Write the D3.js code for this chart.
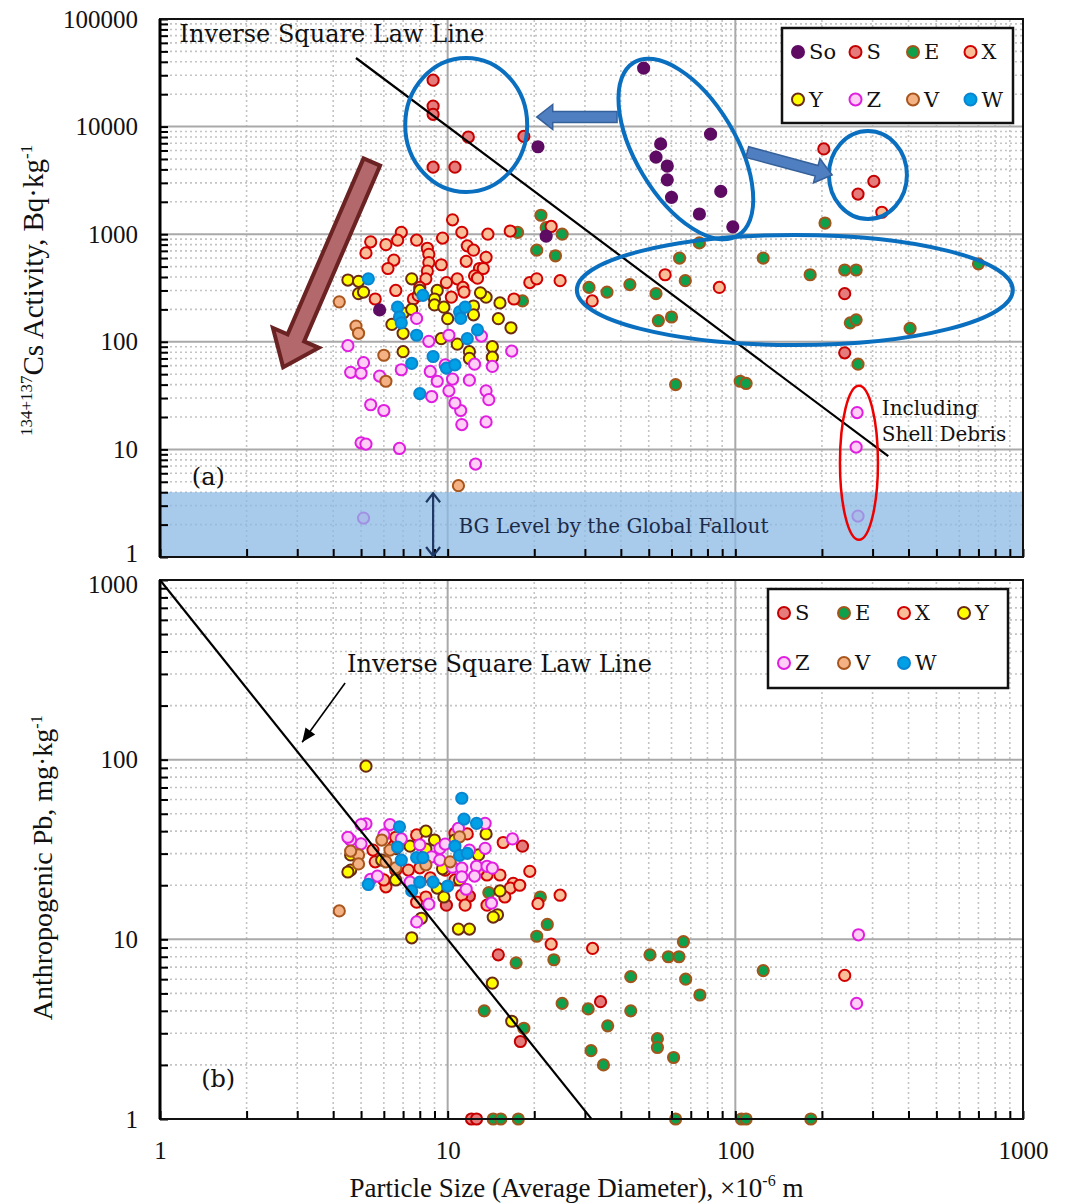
<!DOCTYPE html>
<html>
<head>
<meta charset="utf-8">
<script src="https://cdn.jsdelivr.net/npm/d3@7"></script>
<style>
  body { margin: 0; background: #fff; }
  svg { display: block; }
</style>
</head>
<body>
<div id="container"></div>
<script>
// ---- data: [particle size (um), value] ----
// panel (a): 134+137Cs activity, Bq/kg
const soA = [[48,35000],[82,8500],[55,6900],[53,5200],[58,4300],[58,3200],[89,2500],[60,2200],[75,1540],[98,1170],[20.6,6500],[22,960],[5.8,198]];
const sA = [[8.9,27000],[8.9,15500],[8.9,13000],[11.8,8000],[18.4,8100],[8.9,4200],[10.6,4200],[203,6200],[267,2360],[303,3100],[240,280],[240,79]];
const eA = [[21.1,1500],[17.5,1040],[20.4,710],[18.2,240],[22,1150],[25,1000],[23.7,630],[31,320],[35.8,290],[43,340],[53,280],[54,157],[60,170],[64,600],[67,370],[75,830],[62,40],[104,43],[109,41],[125,600],[182,420],[240,465],[263,465],[251,150],[263,160],[267,62],[205,1270],[405,133],[700,530]];
const xA = [[10.4,1360],[11.2,1040],[9.6,920],[6.9,1040],[6.7,880],[6.1,800],[7.8,880],[8.5,740],[8.6,650],[6.5,575],[6.2,480],[5.2,670],[8.6,545],[9.5,520],[11.6,560],[11.7,780],[12.3,710],[13.8,1000],[13.6,610],[12.9,480],[13.3,480],[12.4,410],[12.7,390],[8.5,455],[8.4,385],[9.9,355],[10.8,385],[11.3,320],[11.4,290],[10.3,260],[6.6,300],[5.6,250],[16.5,1070],[19.3,355],[20.4,385],[17.0,250],[7.6,250],[7.9,270],[8.0,320],[22.9,1180],[24.6,370],[31.8,240],[57,420],[88,320],[323,1600],[5.4,850]];
const yA = [[4.5,375],[4.9,365],[4.9,280],[5.1,290],[7.5,385],[8.0,300],[9.2,300],[9.0,250],[9.0,220],[9.7,210],[7.0,185],[7.5,200],[6.4,145],[7.0,120],[10.0,164],[10.8,95],[9.5,107],[12.3,215],[12.3,178],[15.2,230],[15.0,164],[16.6,135],[13.6,260],[13.0,285],[14.3,90],[14.3,72],[11.9,81],[11.9,70],[7.0,81]];
const zA = [[7.8,165],[8.6,101],[10.1,115],[13.1,113],[16.7,82],[4.5,92],[5.1,64],[4.6,52],[5.0,51],[6.9,55],[8.7,53],[9.8,61],[12.4,62],[14.3,59],[10.4,45],[5.8,48],[5.4,26],[6.0,23],[9.2,43],[8.8,31],[10.1,35],[11.1,23],[11.2,17],[10.6,27],[13.6,35],[13.9,29],[13.6,18],[11.9,44],[5.0,11.5],[5.2,11.2],[6.8,10.2],[12.5,7.3],[5.1,2.3],[265,22],[263,10.5],[267,2.4]];
const vA = [[4.2,235],[4.8,140],[4.9,120],[6.0,75],[6.1,43],[10.9,4.6]];
const wA = [[5.3,385],[8.2,270],[6.7,210],[6.8,170],[6.9,150],[11.0,190],[11.5,210],[11.1,165],[12.7,129],[11.7,107],[7.8,115],[8.9,73],[7.5,63],[9.9,57],[10.6,61],[8.0,33]];

// panel (b): anthropogenic Pb, mg/kg
const sB = [[18.2,33],[11.9,17.4],[15.0,8.2],[17.9,2.7],[34,4.5],[12.1,1],[12.6,1],[9.9,15.5]];
const eB = [[13.9,18.2],[21.0,17.2],[22.2,12.1],[20.4,10.4],[17.3,7.4],[23.4,7.7],[50.5,8.2],[58.5,8.0],[63.7,8.0],[66,9.7],[43.3,6.2],[67.2,6.0],[75.3,4.9],[125,6.7],[25,4.4],[30.8,4.1],[43.3,4.0],[36,3.3],[53.6,2.8],[53.6,2.5],[61,2.2],[31.5,2.4],[34.8,2.0],[18.4,3.2],[13.4,4.0],[14.4,1],[15.3,1],[17.6,1],[62,1],[105,1],[109,1],[183,1]];
const xB = [[7.8,38.1],[15.6,34.6],[19.3,23.9],[24.6,17.6],[20.6,15.8],[22.9,9.4],[11.7,38.6],[8.0,25],[6.1,19.6],[7.8,16.1],[8.4,17.2],[11.2,17.6],[16.9,20.5],[16.5,19.3],[15.8,17.2],[13.7,22.8],[31.9,8.9],[240,6.3],[6.5,33],[10.6,39],[5.6,27],[6.6,24.3],[6.6,37],[7.3,24.3],[8.7,22],[9.8,24.3],[10.6,21.4],[12.8,24.3],[15.2,22.8],[17.8,20],[5.5,31.4],[6.0,21.4],[11.5,15.5],[13.7,15.5]];
const yB = [[5.2,92],[7.5,10.2],[10.9,11.4],[11.9,11.4],[14.9,13.7],[14.4,13.3],[15.2,18.6],[9.0,35.7],[7.4,33],[13.6,38.6],[9.6,24.7],[9.7,17.2],[9.2,19.3],[8.1,13.1],[4.6,24.3],[4.5,23.7],[4.6,29.5],[16.7,3.5],[14.3,5.7],[6.6,32],[8.4,40],[5.9,27.6],[8.4,31.8],[10.6,35.7],[12.8,29.5],[6.6,21.4],[11.0,21.4]];
const zB = [[5.2,44],[6.0,38.1],[5.0,34],[4.6,35.7],[4.5,37],[5.0,43.5],[6.9,36.2],[10.9,41.5],[13.5,44.2],[13.5,32.1],[9.4,32.1],[8.8,28.8],[9.4,27.6],[10.4,25.2],[11.2,24.9],[12.6,25.5],[13.7,25.5],[14.3,24.9],[12.4,22.5],[11.2,22.3],[11.6,19.0],[14.2,15.9],[8.6,15.7],[7.8,12.5],[5.4,21.6],[5.7,22.5],[7.4,20.8],[16.8,36.2],[9.8,33.9],[268,10.6],[264,4.4],[6.3,43.5],[8.0,33.6],[11.9,31.4]];
const vB = [[5.9,35.7],[4.9,29.5],[4.9,26.3],[11.0,37.2],[6.1,27],[4.2,14.4],[4.6,31],[6.3,31.4],[8.4,26],[10.2,27],[6.6,25]];
const wB = [[11.2,61],[11.4,46.7],[12.6,44.2],[6.8,42.3],[6.7,32.6],[6.9,27.6],[7.8,28.5],[8.2,28.5],[10.6,33],[11.0,29.3],[11.7,30.1],[8.9,20.8],[8.0,20.8],[7.5,18.6],[10.0,19.8],[5.3,20.2]];

const legendA = ["So", "S", "E", "X", "Y", "Z", "V", "W"];
const legendB = ["S", "E", "X", "Y", "Z", "V", "W"];

// marker styles
const fills = {So: "#5e0b63", S: "#e57b7b", E: "#0ea04b", X: "#f9bd98", Y: "#ffff00", Z: "#ffcdf5", V: "#f4b183", W: "#00a0e6"};
const strokes = {So: "#5e0b63", S: "#c40000", E: "#a3561c", X: "#d20000", Y: "#6b2a14", Z: "#e01ee0", V: "#a8561e", W: "#0a86d0"};

const width = 1069, height = 1204;
const serif = "'Liberation Serif', 'Times New Roman', serif";
const century = "'DejaVu Serif', serif";

const svg = d3.select("#container").append("svg")
    .attr("width", width)
    .attr("height", height);

const x = d3.scaleLog().domain([1, 1000]).range([160, 1023]);
const ya = d3.scaleLog().domain([1, 100000]).range([557, 19]);
const yb = d3.scaleLog().domain([1, 1000]).range([1119, 580]);

function logTicks(lo, hi) {
    const t = [];
    for (let d = lo; d < hi; d *= 10)
        for (let m = 1; m < 10; m++) t.push(d * m);
    t.push(hi);
    return t;
}
const isMajor = v => Math.abs(Math.log10(v) - Math.round(Math.log10(v))) < 1e-9;

function drawGrid(y) {
    const g = svg.append("g");
    const [x0, x1] = x.range();
    const [y0, y1] = y.range();
    const xt = logTicks(1, 1000), yt = logTicks(y.domain()[0], y.domain()[1]);
    // minor dotted
    g.selectAll(".vx").data(xt.filter(v => !isMajor(v))).enter().append("line")
        .attr("x1", d => x(d)).attr("x2", d => x(d)).attr("y1", y0).attr("y2", y1)
        .attr("stroke", "#c4c4c4").attr("stroke-width", 1.6).attr("stroke-dasharray", "2,3");
    g.selectAll(".hy").data(yt.filter(v => !isMajor(v))).enter().append("line")
        .attr("x1", x0).attr("x2", x1).attr("y1", d => y(d)).attr("y2", d => y(d))
        .attr("stroke", "#c4c4c4").attr("stroke-width", 1.6).attr("stroke-dasharray", "2,3");
    // major solid
    g.selectAll(".vX").data([10, 100]).enter().append("line")
        .attr("x1", d => x(d)).attr("x2", d => x(d)).attr("y1", y0).attr("y2", y1)
        .attr("stroke", "#a9a9a9").attr("stroke-width", 2);
    g.selectAll(".hY").data(yt.filter(v => isMajor(v)).slice(1, -1)).enter().append("line")
        .attr("x1", x0).attr("x2", x1).attr("y1", d => y(d)).attr("y2", d => y(d))
        .attr("stroke", "#a9a9a9").attr("stroke-width", 2);
}

function drawAxes(y, showX, nudge) {
    const [y0, y1] = y.range();
    const yt = logTicks(y.domain()[0], y.domain()[1]);
    const ax = svg.append("g")
        .attr("transform", `translate(${x.range()[0]},0)`)
        .call(d3.axisLeft(y).tickValues(yt).tickSize(-8).tickPadding(22)
            .tickFormat(d => isMajor(d) ? String(Math.round(d)) : ""));
    ax.select(".domain").remove();
    ax.selectAll("line").attr("stroke", "#000").attr("stroke-width", 2);
    ax.selectAll("text").attr("font-family", serif).attr("font-size", 25).attr("fill", "#111");
    // keep the stacked "1" / "1000" labels between the panels apart
    ax.selectAll(".tick").filter(d => nudge[d] !== undefined)
        .select("text").attr("y", d => nudge[d]);

    const bx = svg.append("g")
        .attr("transform", `translate(0,${y0})`)
        .call(d3.axisBottom(x).tickValues(logTicks(1, 1000)).tickSize(-8).tickPadding(22)
            .tickFormat(d => showX && isMajor(d) ? String(Math.round(d)) : ""));
    bx.select(".domain").remove();
    bx.selectAll("line").attr("stroke", "#000").attr("stroke-width", 2);
    bx.selectAll("text").attr("font-family", serif).attr("font-size", 25).attr("fill", "#111");

    // frame
    svg.append("rect")
        .attr("x", x.range()[0]).attr("y", y1)
        .attr("width", x.range()[1] - x.range()[0]).attr("height", y0 - y1)
        .attr("fill", "none").attr("stroke", "#111").attr("stroke-width", 2);
    svg.append("line")
        .attr("x1", x.range()[0]).attr("x2", x.range()[0]).attr("y1", y0).attr("y2", y1)
        .attr("stroke", "#000").attr("stroke-width", 3);
}

function drawPoints(y, series) {
    const g = svg.append("g");
    series.forEach(([name, data]) => {
        g.append("g").selectAll("circle").data(data).enter().append("circle")
            .attr("cx", d => x(d[0]))
            .attr("cy", d => y(d[1]))
            .attr("r", 5.6)
            .attr("fill", fills[name])
            .attr("stroke", strokes[name])
            .attr("stroke-width", 2);
    });
}

function drawLegend(names, cols, bx, by, bw, bh, dx, dy) {
    const g = svg.append("g").attr("transform", `translate(${bx},${by})`);
    g.append("rect").attr("width", bw).attr("height", bh)
        .attr("fill", "#fff").attr("stroke", "#111").attr("stroke-width", 2.5);
    const it = g.selectAll("g").data(names).enter().append("g")
        .attr("transform", (d, i) => `translate(${16 + (i % cols) * dx},${24 + Math.floor(i / cols) * dy})`);
    it.append("circle").attr("r", 6)
        .attr("fill", d => fills[d]).attr("stroke", d => strokes[d]).attr("stroke-width", 2);
    it.append("text").attr("x", 11).attr("dy", "0.35em")
        .attr("font-family", century).attr("font-size", 21).attr("fill", "#111")
        .text(d => d);
}

function blockArrow(p0, p1, shaft, headW, headL) {
    const dx = p1[0] - p0[0], dy = p1[1] - p0[1], L = Math.hypot(dx, dy);
    const ux = dx / L, uy = dy / L, nx = -uy, ny = ux;
    const b = [p1[0] - ux * headL, p1[1] - uy * headL];
    return [
        [p0[0] + nx * shaft / 2, p0[1] + ny * shaft / 2],
        [b[0] + nx * shaft / 2, b[1] + ny * shaft / 2],
        [b[0] + nx * headW / 2, b[1] + ny * headW / 2],
        p1,
        [b[0] - nx * headW / 2, b[1] - ny * headW / 2],
        [b[0] - nx * shaft / 2, b[1] - ny * shaft / 2],
        [p0[0] - nx * shaft / 2, p0[1] - ny * shaft / 2]
    ];
}

// ===== panel (a) =====
drawGrid(ya);
drawPoints(ya, [["S", sA], ["E", eA], ["X", xA], ["Y", yA], ["Z", zA], ["V", vA], ["W", wA], ["So", soA]]);

// background level band (1 - 4 Bq/kg)
svg.append("rect")
    .attr("x", x(1)).attr("width", x(1000) - x(1))
    .attr("y", ya(4)).attr("height", ya(1) - ya(4))
    .attr("fill", "#8bb8e4").attr("opacity", 0.75);

drawAxes(ya, false, {1: -4});

// inverse square law line, y = 1e6 / x^2
const isqA = [4.8, 340];
svg.append("line")
    .attr("x1", x(isqA[0])).attr("y1", ya(1e6 / isqA[0] ** 2))
    .attr("x2", x(isqA[1])).attr("y2", ya(1e6 / isqA[1] ** 2))
    .attr("stroke", "#000").attr("stroke-width", 2.2);

svg.append("text").attr("x", x(1.17)).attr("y", ya(61000))
    .attr("font-family", century).attr("font-size", 24).attr("fill", "#111")
    .text("Inverse Square Law Line");

// blue ellipses
const blue = "#0b6fc0";
svg.append("ellipse").attr("cx", x(11.6)).attr("cy", ya(10350)).attr("rx", 61).attr("ry", 67)
    .attr("fill", "none").attr("stroke", blue).attr("stroke-width", 4);
svg.append("ellipse").attr("rx", 50).attr("ry", 101)
    .attr("transform", `translate(${x(67.3)},${ya(6190)}) rotate(-31)`)
    .attr("fill", "none").attr("stroke", blue).attr("stroke-width", 4);
svg.append("ellipse").attr("cx", x(289)).attr("cy", ya(3550)).attr("rx", 39).attr("ry", 44)
    .attr("fill", "none").attr("stroke", blue).attr("stroke-width", 4);
svg.append("ellipse").attr("cx", x(161)).attr("cy", ya(303)).attr("rx", 218).attr("ry", 55)
    .attr("fill", "none").attr("stroke", blue).attr("stroke-width", 4);

// red ellipse around shell debris
svg.append("ellipse").attr("cx", x(269)).attr("cy", ya(7.5)).attr("rx", 19).attr("ry", 77)
    .attr("fill", "none").attr("stroke", "#ee0000").attr("stroke-width", 2.5);
svg.append("text").attr("x", x(323)).attr("y", ya(20.9))
    .attr("font-family", century).attr("font-size", 20).attr("fill", "#111").text("Including");
svg.append("text").attr("x", x(323)).attr("y", ya(12))
    .attr("font-family", century).attr("font-size", 20).attr("fill", "#111").text("Shell Debris");

// blue block arrows
svg.append("polygon")
    .attr("points", blockArrow([x(38.8), ya(12300)], [x(20.4), ya(12300)], 11, 25, 16).join(" "))
    .attr("fill", "#4f7fc0").attr("stroke", "#35609a").attr("stroke-width", 1.5);
svg.append("polygon")
    .attr("points", blockArrow([x(110), ya(5800)], [x(217), ya(3550)], 11, 25, 16).join(" "))
    .attr("fill", "#4f7fc0").attr("stroke", "#35609a").attr("stroke-width", 1.5);

// maroon arrow
svg.append("polygon")
    .attr("points", blockArrow([x(5.45), ya(4690)], [x(2.68), ya(58)], 18, 50, 32).join(" "))
    .attr("fill", "#b3696b").attr("stroke", "#6b2222").attr("stroke-width", 4)
    .attr("stroke-linejoin", "miter");

// BG level double arrow
const navy = "#1f3864";
const bgx = x(8.9);
svg.append("line").attr("x1", bgx).attr("x2", bgx).attr("y1", ya(4) + 2).attr("y2", ya(1) - 2)
    .attr("stroke", navy).attr("stroke-width", 2.2);
svg.append("path")
    .attr("d", `M${bgx - 7},${ya(4) + 10}L${bgx},${ya(4) + 1}L${bgx + 7},${ya(4) + 10}` +
               `M${bgx - 7},${ya(1) - 10}L${bgx},${ya(1) - 1}L${bgx + 7},${ya(1) - 10}`)
    .attr("fill", "none").attr("stroke", navy).attr("stroke-width", 2.2);
svg.append("text").attr("x", x(10.9)).attr("y", ya(1.67))
    .attr("font-family", century).attr("font-size", 20).attr("fill", "#1b2a48")
    .text("BG Level by the Global Fallout");

svg.append("text").attr("x", x(1.29)).attr("y", ya(4.67))
    .attr("font-family", century).attr("font-size", 24).attr("fill", "#111").text("(a)");

drawLegend(legendA, 4, 782, 28, 231, 95, 57.5, 47.5);

// y label (a)
const yla = svg.append("text")
    .attr("transform", `translate(43,${ya(300)}) rotate(-90)`)
    .attr("text-anchor", "middle")
    .attr("font-family", serif).attr("font-size", 29).attr("fill", "#111");
yla.append("tspan").attr("font-size", 17).attr("dy", -11).text("134+137");
yla.append("tspan").attr("dy", 11).text("Cs Activity, Bq\u00b7kg");
yla.append("tspan").attr("font-size", 17).attr("dy", -11).text("-1");

// ===== panel (b) =====
drawGrid(yb);
drawPoints(yb, [["S", sB], ["E", eB], ["X", xB], ["Y", yB], ["Z", zB], ["V", vB], ["W", wB]]);
drawAxes(yb, true, {1000: 4});

// inverse square law line, y = 1000 / x^2
const isqB = [1, 31.6];
svg.append("line")
    .attr("x1", x(isqB[0])).attr("y1", yb(1000 / isqB[0] ** 2))
    .attr("x2", x(isqB[1])).attr("y2", yb(1000 / isqB[1] ** 2))
    .attr("stroke", "#000").attr("stroke-width", 2.2);

svg.append("text").attr("x", x(4.47)).attr("y", yb(307))
    .attr("font-family", century).attr("font-size", 24).attr("fill", "#111")
    .text("Inverse Square Law Line");

// pointer arrow
const pa = [x(4.4), yb(267)], pb = [x(3.12), yb(125)];
svg.append("line").attr("x1", pa[0]).attr("y1", pa[1]).attr("x2", pb[0]).attr("y2", pb[1])
    .attr("stroke", "#000").attr("stroke-width", 1.6);
{
    const ang = Math.atan2(pb[1] - pa[1], pb[0] - pa[0]);
    const L = 14, W = 6;
    const bx0 = pb[0] - Math.cos(ang) * L, by0 = pb[1] - Math.sin(ang) * L;
    svg.append("polygon")
        .attr("points", [[pb[0], pb[1]],
            [bx0 - Math.sin(ang) * W, by0 + Math.cos(ang) * W],
            [bx0 + Math.sin(ang) * W, by0 - Math.cos(ang) * W]].join(" "))
        .attr("fill", "#000");
}

svg.append("text").attr("x", x(1.39)).attr("y", yb(1.51))
    .attr("font-family", century).attr("font-size", 24).attr("fill", "#111").text("(b)");

drawLegend(legendB, 4, 768, 589, 240, 99, 60, 50);

// y label (b)
const ylb = svg.append("text")
    .attr("transform", `translate(52,${yb(25)}) rotate(-90)`)
    .attr("text-anchor", "middle")
    .attr("font-family", serif).attr("font-size", 28).attr("fill", "#111");
ylb.append("tspan").text("Anthropogenic Pb, mg\u00b7kg");
ylb.append("tspan").attr("font-size", 16).attr("dy", -10).text("-1");

// x label
const xl = svg.append("text")
    .attr("x", (x(1) + x(1000)) / 2 - 15).attr("y", 1197)
    .attr("text-anchor", "middle")
    .attr("font-family", serif).attr("font-size", 27).attr("fill", "#111");
xl.append("tspan").text("Particle Size (Average Diameter), \u00d710");
xl.append("tspan").attr("font-size", 16).attr("dy", -11).text("-6");
xl.append("tspan").attr("dy", 11).text(" m");
</script>
</body>
</html>
